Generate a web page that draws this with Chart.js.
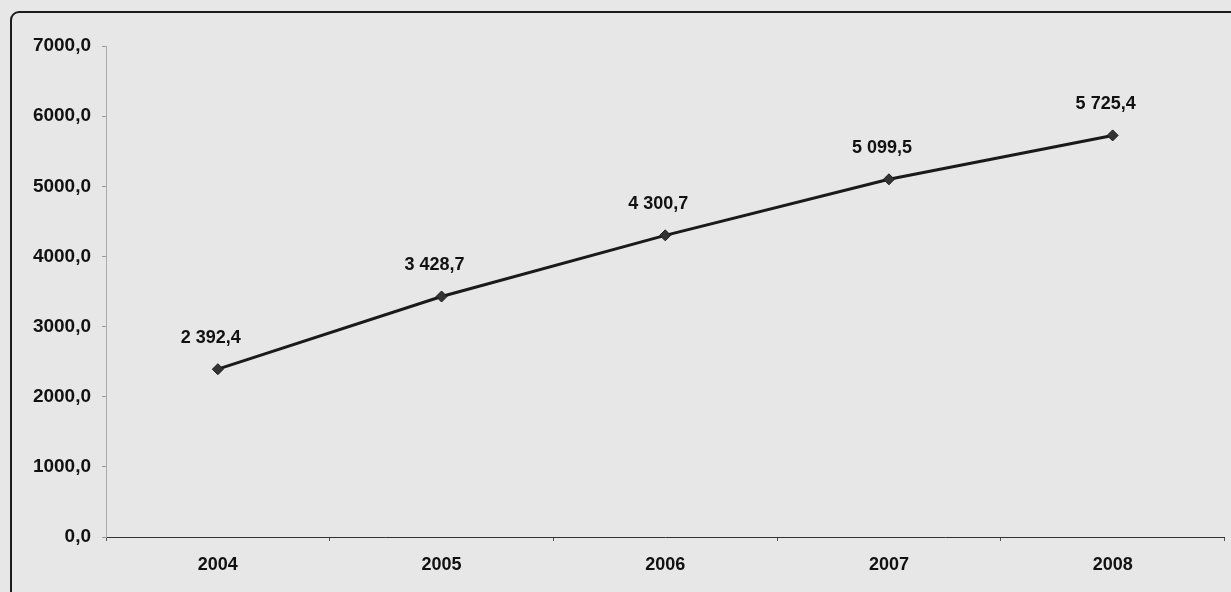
<!DOCTYPE html>
<html>
<head>
<meta charset="utf-8">
<script src="https://cdn.jsdelivr.net/npm/chart.js@4/dist/chart.umd.min.js"></script>
<style>
  html, body { margin: 0; padding: 0; width: 1231px; height: 592px; overflow: hidden; background: #e7e7e7; }
  #frame { position: absolute; left: 10px; top: 11px; width: 1240px; height: 610px; border: 2px solid #1c1c1c; border-radius: 9px; box-sizing: border-box; }
  #c { position: absolute; left: 0; top: 0; }
</style>
</head>
<body>
<div id="frame"></div>
<canvas id="c" width="1231" height="592"></canvas>
<script>
// ---- data ----
const years = ['2004', '2005', '2006', '2007', '2008'];
const values = [2392.4, 3428.7, 4300.7, 5099.5, 5725.4];
const yMin = 0;
const yMax = 7000;
const yStep = 1000;

// ---- formatting ----
function fmtTick(v) { return v.toFixed(1).replace('.', ','); }
function fmtLabel(v) {
  const parts = v.toFixed(1).split('.');
  const intPart = parts[0].replace(/\B(?=(\d{3})+(?!\d))/g, ' ');
  return intPart + ',' + parts[1];
}

const FONT = '"Liberation Sans", Arial, sans-serif';

const valueLabels = {
  id: 'valueLabels',
  afterDatasetsDraw(chart) {
    const ctx = chart.ctx;
    const meta = chart.getDatasetMeta(0);
    ctx.save();
    ctx.font = 'bold 18px ' + FONT;
    ctx.fillStyle = '#111';
    ctx.textAlign = 'center';
    ctx.textBaseline = 'middle';
    meta.data.forEach((pt, i) => {
      ctx.fillText(fmtLabel(values[i]), pt.x - 7, pt.y - 31);
    });
    ctx.restore();
  }
};

new Chart(document.getElementById('c'), {
  type: 'line',
  data: {
    labels: years,
    datasets: [{
      data: values,
      borderColor: '#1a1a1a',
      borderWidth: 3,
      pointStyle: 'rectRot',
      pointRadius: 5.5,
      pointBackgroundColor: '#333',
      pointBorderColor: '#1a1a1a',
      pointBorderWidth: 1,
      tension: 0,
      fill: false
    }]
  },
  options: {
    responsive: false,
    animation: false,
    devicePixelRatio: 1,
    layout: { padding: { top: 46, right: 6, bottom: 0, left: 0 } },
    plugins: { legend: { display: false }, tooltip: { enabled: false } },
    scales: {
      x: {
        offset: true,
        afterFit(s) { s.height = 55; },
        grid: { drawOnChartArea: false, drawTicks: true, tickLength: 4, color: '#555', offset: true },
        border: { display: true, color: '#333', width: 1, dash: [1, 2] },
        ticks: { color: '#111', font: { family: FONT, size: 18, weight: 'bold' }, padding: 13, maxRotation: 0 }
      },
      y: {
        min: yMin,
        max: yMax,
        afterFit(s) { s.width = 106; },
        grid: { drawOnChartArea: false, drawTicks: true, tickLength: 4, color: '#999' },
        border: { display: true, color: '#aaa', width: 1, dash: [1, 2] },
        ticks: {
          stepSize: yStep,
          color: '#111',
          font: { family: FONT, size: 19, weight: 'bold' },
          padding: 11,
          callback: (v) => fmtTick(v)
        }
      }
    }
  },
  plugins: [valueLabels]
});
</script>
</body>
</html>
